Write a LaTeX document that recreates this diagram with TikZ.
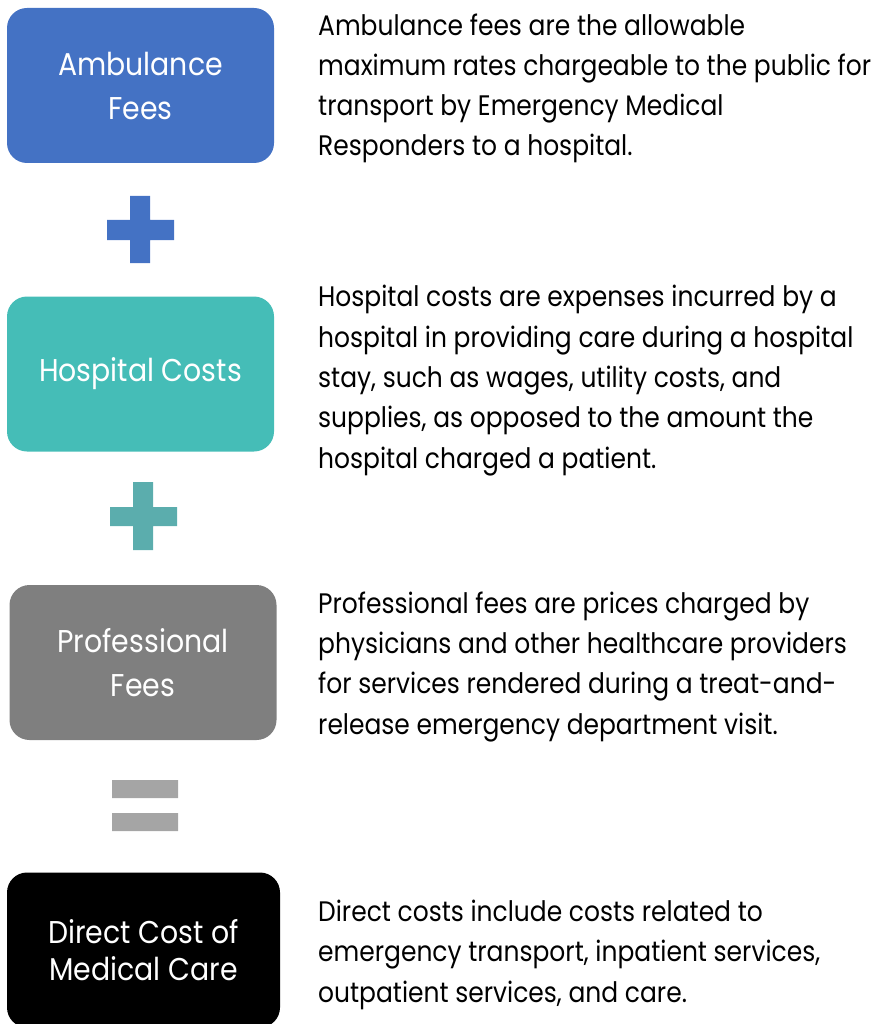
\documentclass[tikz,border=0pt]{standalone}
\usepackage{fontspec}
\setmainfont{Poppins}[FakeStretch=0.9]
\newfontfamily\descfont{Poppins}[FakeStretch=0.885]
\usetikzlibrary{positioning}

\definecolor{ambblue}{HTML}{4472C4}
\definecolor{hosteal}{HTML}{45BDB7}
\definecolor{plusteal}{HTML}{5BADAD}
\definecolor{profgray}{HTML}{7F7F7F}
\definecolor{eqgray}{HTML}{A5A5A5}

\tikzset{
  costbox/.style={rounded corners=20pt, minimum width=267pt, minimum height=155pt,
    text=white, align=center, font=\fontsize{31.5}{44}\selectfont},
  desc/.style={anchor=base west, align=left, inner sep=0pt,
    font=\descfont\fontsize{28.2}{40.3}\selectfont},
}

\begin{document}
\begin{tikzpicture}[x=1pt,y=-1pt]
  \useasboundingbox (0,0) rectangle (877,1024);

  %% boxes on the left
  \node[costbox, fill=ambblue]  (amb)  at (140.5,85.5) {Ambulance\\Fees};
  \node[costbox, fill=hosteal]  (hosp) at (140.5,374)  {Hospital Costs};
  \node[costbox, fill=profgray] (prof) at (143,662.5)  {Professional\\Fees};
  \node[costbox, fill=black, minimum width=273pt,
        font=\fontsize{31.5}{37.5}\selectfont] (dcmc) at (143.5,950)
    {Direct Cost of\\Medical Care};

  %% plus, plus, equals
  \fill[ambblue] (107,220) rectangle (174,240) (130,196) rectangle (150,263);
  \fill[plusteal] (110,507) rectangle (177,526) (133,482) rectangle (153,550);
  \fill[eqgray] (112,780) rectangle (178,798) (112,813) rectangle (178,831);

  %% descriptions, placed on the last baseline
  \node[desc] (ambtxt) at (318,156) {Ambulance fees are the allowable\\
    maximum rates chargeable to the public for\\
    transport by Emergency Medical\\
    Responders to a hospital.};
  \node[desc] (hosptxt) at (318,468) {Hospital costs are expenses incurred by a\\
    hospital in providing care during a hospital\\
    stay, such as wages, utility costs, and\\
    supplies, as opposed to the amount the\\
    hospital charged a patient.};
  \node[desc] (proftxt) at (318,734) {Professional fees are prices charged by\\
    physicians and other healthcare providers\\
    for services rendered during a treat-and-\\
    release emergency department visit.};
  \node[desc] (dcmctxt) at (318,1002) {Direct costs include costs related to\\
    emergency transport, inpatient services,\\
    outpatient services, and care.};
\end{tikzpicture}
\end{document}
